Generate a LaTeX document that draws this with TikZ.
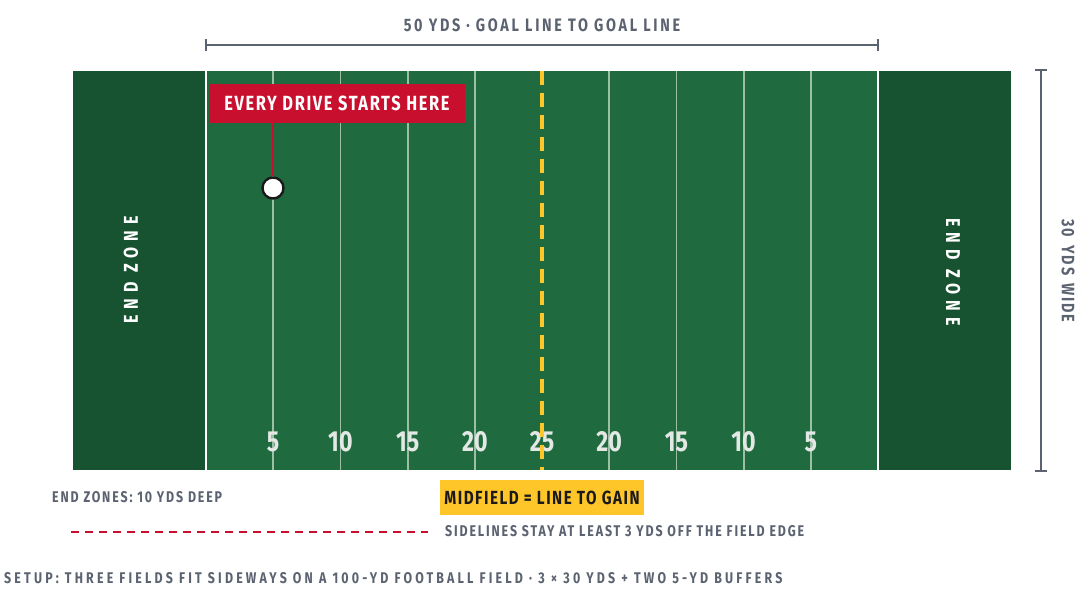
\documentclass[tikz,border=0pt]{standalone}
\usepackage{fontspec}
\setmainfont{Fira Sans}
\newfontfamily\cond[FakeStretch=0.8]{Fira Sans}
\definecolor{ezgreen}{HTML}{175231}
\definecolor{fgreen}{HTML}{1F6B3F}
\definecolor{yline}{HTML}{9CBFA6}
\definecolor{dred}{HTML}{C8102E}
\definecolor{gold}{HTML}{FFC629}
\definecolor{slate}{HTML}{5B6270}
\definecolor{numc}{HTML}{E4E8E5}
\definecolor{ink}{HTML}{1A1A1A}
\begin{document}
\begin{tikzpicture}[x=1pt,y=-1pt,
  lbl/.style={font=\cond\bfseries\fontsize{18}{18}\selectfont\addfontfeature{LetterSpace=15}, text=slate, inner sep=0pt},
  rlblst/.style={font=\cond\bfseries\fontsize{18}{18}\selectfont\addfontfeature{LetterSpace=10}, text=slate, inner sep=0pt},
  small/.style={font=\cond\bfseries\fontsize{15.5}{15.5}\selectfont\addfontfeature{LetterSpace=12}, text=slate, inner sep=0pt},
  wide/.style={font=\cond\bfseries\fontsize{15.5}{15.5}\selectfont\addfontfeature{LetterSpace=20.5}, text=slate, inner sep=0pt},
  ezlbl/.style={font=\cond\bfseries\fontsize{20}{20}\selectfont\addfontfeature{LetterSpace=30}, text=white, inner sep=0pt},
  num/.style={font=\cond\bfseries\fontsize{29}{29}\selectfont, text=numc, inner sep=0pt},
  yard/.style={draw=yline, line width=1.8pt},
  goal/.style={draw=white, line width=2.6pt},
  dim/.style={draw=slate, line width=1.3pt},
  dimtick/.style={draw=slate, line width=1.3pt},
  redbox/.style={fill=dred, text=white, font=\cond\bfseries\fontsize{20.5}{20.5}\selectfont\addfontfeature{LetterSpace=8}, inner xsep=0pt, minimum width=256pt, minimum height=39pt},
  goldbox/.style={fill=gold, text=ink, font=\cond\bfseries\fontsize{19}{19}\selectfont\addfontfeature{LetterSpace=8}, inner xsep=0pt, minimum width=204pt, minimum height=35pt}]
\useasboundingbox (0,0) rectangle (1090,600);
\fill[white] (0,0) rectangle (1090,600);
% end zones and field
\fill[ezgreen] (73,71) rectangle (206,470);
\fill[ezgreen] (878,71) rectangle (1011,470);
\fill[fgreen] (206,71) rectangle (878,470);
% yard lines
\foreach \i in {1,...,9}{
  \pgfmathsetmacro{\xx}{206+67.2*\i}
  \ifnum\i=5\else \draw[yard] (\xx,71) -- (\xx,470);\fi
}
\draw[goal] (206,71) -- (206,470);
\draw[goal] (878,71) -- (878,470);
% numbers
\foreach \i/\t in {1/5,2/10,3/15,4/20,5/25,6/20,7/15,8/10,9/5}{
  \pgfmathsetmacro{\xx}{206+67.2*\i}
  \node[num] (n\i) at (\xx,442) {\t};
}
% midfield dashed line
\draw[draw=gold, line width=4pt, dash pattern=on 14pt off 8pt] (542,71) -- (542,470);
% end zone labels
\node[ezlbl, rotate=90] (ezl) at (131,270) {END ZONE};
\node[ezlbl, rotate=-90] (ezr) at (953,272) {END ZONE};
% top dimension
\coordinate (tl) at (206,45);
\coordinate (tr) at (878,45);
\draw[dim] (tl) -- (tr);
\draw[dimtick] ([yshift=-6pt]tl) -- ([yshift=6pt]tl);
\draw[dimtick] ([yshift=-6pt]tr) -- ([yshift=6pt]tr);
\node[lbl] (toplbl) at (542,25) {50 YDS · GOAL LINE TO GOAL LINE};
% right dimension
\coordinate (rt) at (1041,70);
\coordinate (rb) at (1041,471);
\draw[dim] (rt) -- (rb);
\draw[dimtick] ([xshift=-6pt]rt) -- ([xshift=6pt]rt);
\draw[dimtick] ([xshift=-6pt]rb) -- ([xshift=6pt]rb);
\node[rlblst, rotate=-90] (rlbl) at (1068,271) {30\hspace{3pt} YDS\hspace{3pt} WIDE};
% drive start
\node[redbox] (drive) at (337,103.5) {EVERY DRIVE STARTS HERE};
\node[circle, draw=ink, fill=white, line width=2.4pt, minimum size=21pt, inner sep=0pt] (ball) at (273,188) {};
\draw[dred, line width=1.8pt] (drive.south -| ball) -- (ball.north);
% legend
\node[small, anchor=west] (ezdeep) at (52,497) {END ZONES: 10 YDS DEEP};
\node[goldbox] (mid) at (542,497.5) {MIDFIELD = LINE TO GAIN};
\coordinate (dl) at (71,532);
\coordinate (dr) at (428,532);
\draw[dred, line width=2pt, dash pattern=on 8pt off 6pt] (dl) -- (dr);
\node[small, anchor=west] (side) at (445,531) {SIDELINES STAY AT LEAST 3 YDS OFF THE FIELD EDGE};
\node[wide, anchor=west] (setup) at (4,578) {SETUP: THREE FIELDS FIT SIDEWAYS ON A 100-YD FOOTBALL FIELD · 3 × 30 YDS + TWO 5-YD BUFFERS};
\end{tikzpicture}
\end{document}
